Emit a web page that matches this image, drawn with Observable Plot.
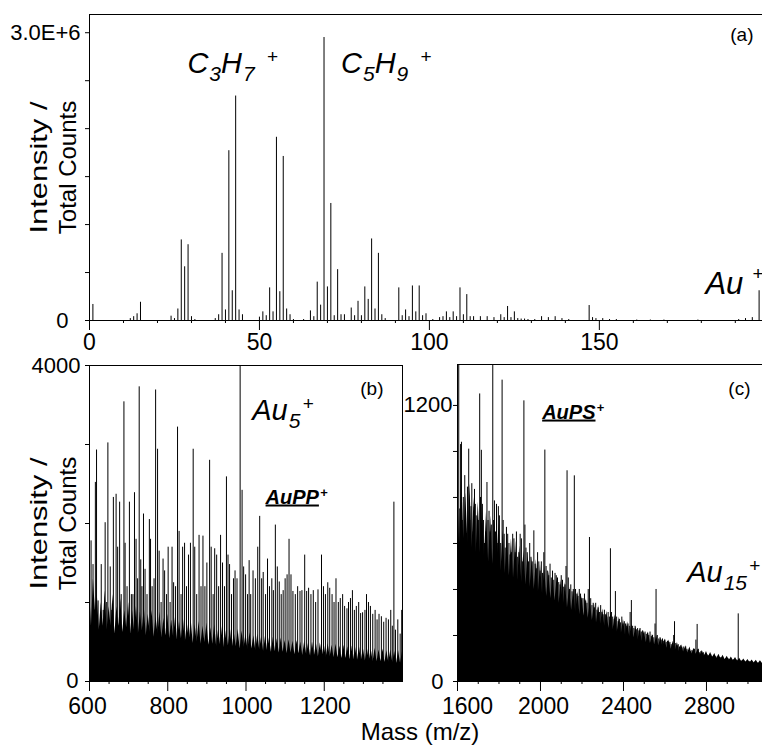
<!DOCTYPE html>
<html><head><meta charset="utf-8">
<script src="https://cdn.jsdelivr.net/npm/d3@7"></script>
<script src="https://cdn.jsdelivr.net/npm/@observablehq/plot@0.6"></script>
<style>
body{margin:0;background:#fff;}
#fig{position:relative;width:762px;height:745px;overflow:hidden;font-family:"Liberation Sans",Arial,sans-serif;color:#000;}
#fig svg{position:absolute;}
#xlab{position:absolute;left:270px;width:300px;top:723px;text-align:center;font-size:24px;line-height:18px;}
</style></head><body><div id="fig"><div id="xlab">Mass (m/z)</div></div>
<script>
// ---------- data ----------
// Panel (a): low-mass region, [m/z, intensity]
const peaksA = [[1,1.67e5],[12,2e4],[13,4e4],[14,7e4],[15,1.9e5],[24,4.5e4],[25,2e4],[26,1.2e5],[27,8.4e5],[28,5.6e5],[29,7.9e5],[30,4e4],[31,1e4],
 [37,2e4],[38,6e4],[39,7.0e5],[40,1.1e5],[41,1.77e6],[42,3.1e5],[43,2.34e6],[44,1.1e5],[45,6e4],[50,3.5e4],[51,9e4],[52,5e4],[53,3.4e5],[54,9e4],
 [55,1.91e6],[56,3.0e5],[57,1.71e6],[58,1.2e5],[59,6e4],[60,1e4],[63,1e4],[65,1.0e5],[66,4e4],[67,4.0e5],[68,1.6e5],[69,2.95e6],[70,3.5e5],[71,1.22e6],
 [72,5e4],[73,5.3e5],[74,6e4],[75,6e4],[77,1.3e5],[78,5e4],[79,2.0e5],[80,5e4],[81,3.5e5],[82,2.2e5],[83,8.5e5],[84,1.2e5],[85,7.0e5],[86,6e4],[87,2e4],
 [91,3.4e5],[92,5e4],[93,1.1e5],[94,4e4],[95,3.6e5],[96,9e4],[97,3.6e5],[98,5e4],[99,7e4],[101,1e4],[103,3e4],[104,4e4],[105,9e4],[106,3e4],[107,9e4],
 [108,4e4],[109,3.4e5],[110,6e4],[111,2.7e5],[112,4e4],[113,4e4],[115,4e4],[117,4e4],[119,3e4],[121,6e4],[122,3e4],[123,1.46e5],[124,3e4],[125,9e4],
 [126,2e4],[127,1.5e4],[128,1.5e4],[129,1e4],[131,1e4],[133,4e4],[135,3e4],[137,4e4],[139,2e4],[141,1e4],[147,1.56e5],[148,3e4],[149,2e4],[151,2e4],
 [153,1e4],[155,1e4],[161,5e3],[165,5e3],[169,5e3],[179,5e3],[191,1e4],[193,2e4],[195,3e4],[197,3.1e5],[198,2e4]];

// Panel (b): 600-1400 m/z, resolved peaks [m/z, counts]
const peaksB = [[604,1780],[609,1480],[615,2520],[618,2930],[622,1020],[630,1480],[635,900],[640,2010],[644,1000],[647,3020],[653,1450],[657,900],
 [661,2330],[668,2370],[672,1700],[677,2270],[681,1100],[688,3540],[691,1750],[696,1200],[702,2270],[707,1100],[711,1100],[715,2390],[719,1800],
 [723,1300],[727,3730],[731,1540],[734,1200],[738,2120],[742,1420],[747,1100],[753,2050],[756,1800],[760,1200],[765,1300],[769,3690],[774,2940],
 [778,1650],[783,1000],[788,1550],[792,1400],[797,1100],[801,1700],[806,1000],[811,1700],[815,1250],[820,1200],[825,3220],[829,1900],[834,1100],
 [838,1700],[843,1750],[848,1200],[853,1600],[858,1750],[865,2940],[869,1700],[874,1100],[880,1850],[885,1200],[890,1840],[895,1200],[900,1500],
 [907,2800],[911,1700],[916,1100],[920,1680],[925,1600],[930,1200],[935,1850],[940,1500],[945,1200],[950,2590],[954,1600],[958,1480],[963,1100],
 [968,1300],[972,1400],[977,1300],[985,5000],[990,2420],[994,1450],[999,1350],[1004,1100],[1008,1530],[1012,1100],[1018,1400],[1024,1300],
 [1030,1700],[1035,2090],[1040,1300],[1044,1380],[1050,1100],[1055,1550],[1060,1200],[1066,1300],[1070,1150],[1075,1980],[1080,1450],[1085,1260],
 [1090,1100],[1095,1150],[1100,1300],[1105,1350],[1110,1800],[1115,1350],[1120,1140],[1126,1100],[1132,1200],[1138,1140],[1143,1150],[1150,1600],
 [1155,1140],[1160,1180],[1166,1100],[1172,1150],[1178,1000],[1184,1160],[1193,1600],[1198,1200],[1203,1100],[1209,1250],[1214,1180],[1220,1100],
 [1225,1000],[1230,1300],[1236,1000],[1241,1050],[1247,1100],[1252,950],[1258,920],[1262,1000],[1267,1050],[1272,1150],[1277,900],[1282,950],
 [1288,1000],[1293,860],[1298,870],[1304,900],[1308,1100],[1313,1000],[1318,950],[1324,850],[1330,900],[1335,780],[1340,850],[1346,820],
 [1352,750],[1358,800],[1364,780],[1370,900],[1374,700],[1378,2270],[1382,650],[1388,780],[1394,600],[1398,900]];

// Panel (b): dense unresolved signal [m/z, counts]
const bgB = [[600,1200],[605,700],[610,1300],[615,900],[620,1100],[625,650],[630,1000],[635,700],[640,1150],[645,650],[650,950],[655,700],[660,1100],
 [665,600],[670,950],[675,700],[680,1050],[685,620],[690,900],[695,680],[700,1000],[705,600],[710,900],[715,650],[720,950],[725,600],[730,880],
 [735,640],[740,950],[745,580],[750,850],[755,620],[760,900],[765,560],[770,820],[775,600],[780,880],[785,550],[790,800],[795,580],[800,850],
 [805,540],[810,780],[815,560],[820,820],[825,520],[830,760],[835,540],[840,800],[845,500],[850,740],[855,520],[860,780],[865,480],[870,720],
 [875,500],[880,760],[885,470],[890,700],[895,490],[900,740],[905,460],[910,680],[915,470],[920,720],[925,440],[930,660],[935,460],[940,700],
 [945,430],[950,640],[955,450],[960,680],[965,420],[970,620],[975,440],[980,660],[985,410],[990,640],[995,430],[1000,600],[1005,400],[1010,620],
 [1015,410],[1020,580],[1025,390],[1030,600],[1035,400],[1040,570],[1045,380],[1050,580],[1055,390],[1060,550],[1065,370],[1070,560],[1075,380],
 [1080,540],[1085,360],[1090,550],[1095,370],[1100,520],[1105,350],[1110,530],[1115,360],[1120,510],[1125,340],[1130,520],[1135,350],[1140,500],
 [1145,330],[1150,510],[1155,340],[1160,490],[1165,320],[1170,500],[1175,330],[1180,480],[1185,310],[1190,490],[1195,320],[1200,470],[1205,300],
 [1210,480],[1215,310],[1220,460],[1225,300],[1230,470],[1235,300],[1240,450],[1245,290],[1250,460],[1255,290],[1260,440],[1265,280],[1270,450],
 [1275,280],[1280,430],[1285,270],[1290,440],[1295,270],[1300,420],[1305,260],[1310,430],[1315,260],[1320,410],[1325,250],[1330,420],[1335,250],
 [1340,400],[1345,250],[1350,410],[1355,240],[1360,390],[1365,240],[1370,400],[1375,240],[1380,380],[1385,230],[1390,390],[1395,230],[1400,380]];

// Panel (c): 1600-3070 m/z, resolved peaks [m/z, counts]
const peaksC = [[1606,2000],[1611,750],[1615,1030],[1619,1040],[1623,700],[1628,800],[1635,895],[1641,600],[1648,845],[1654,1010],[1660,700],
 [1665,760],[1669,860],[1675,650],[1682,835],[1686,770],[1690,720],[1696,600],[1702,700],[1707,1250],[1711,800],[1715,1005],[1720,770],[1725,700],
 [1730,600],[1736,650],[1742,865],[1747,700],[1752,740],[1757,650],[1763,680],[1770,2000],[1774,700],[1778,785],[1783,650],[1788,770],[1792,600],
 [1797,760],[1802,720],[1808,600],[1815,1310],[1820,700],[1825,640],[1830,580],[1836,670],[1842,640],[1848,600],[1853,550],[1860,560],[1866,640],
 [1872,620],[1878,560],[1884,650],[1890,540],[1896,560],[1902,640],[1908,620],[1914,520],[1920,1220],[1925,680],[1930,580],[1936,560],[1942,520],
 [1948,600],[1954,540],[1960,520],[1968,655],[1974,510],[1980,490],[1986,560],[1992,520],[1998,480],[2004,520],[2010,470],[2016,560],[2021,1006],
 [2027,500],[2033,480],[2040,460],[2046,510],[2052,450],[2058,480],[2064,440],[2070,470],[2076,460],[2082,450],[2088,430],[2094,420],[2100,460],
 [2106,440],[2112,410],[2118,420],[2123,500],[2128,916],[2134,450],[2140,400],[2146,420],[2152,390],[2158,400],[2163,894],[2169,400],[2175,380],
 [2181,370],[2187,400],[2193,380],[2199,360],[2205,360],[2212,380],[2218,350],[2224,340],[2230,400],[2236,626],[2242,360],[2248,330],[2254,340],
 [2260,320],[2266,340],[2272,310],[2278,320],[2284,300],[2290,330],[2296,300],[2302,290],[2308,310],[2314,290],[2320,280],[2326,300],[2332,280],
 [2337,577],[2342,300],[2348,280],[2355,270],[2361,391],[2367,280],[2374,260],[2380,270],[2386,255],[2392,280],[2398,250],[2404,260],[2410,250],
 [2416,240],[2422,250],[2428,240],[2432,300],[2438,352],[2444,240],[2450,230],[2456,240],[2462,225],[2468,230],[2474,220],[2480,230],[2486,215],
 [2492,220],[2498,210],[2504,215],[2510,205],[2516,210],[2522,200],[2528,215],[2534,195],[2540,200],[2546,190],[2552,250],[2557,400],[2563,200],
 [2570,185],[2576,190],[2582,180],[2588,185],[2594,175],[2600,180],[2606,170],[2612,175],[2618,165],[2624,170],[2630,160],[2636,165],[2642,200],
 [2646,260],[2652,165],[2658,155],[2664,160],[2670,150],[2676,155],[2682,145],[2688,150],[2694,140],[2700,150],[2706,140],[2712,135],[2718,140],
 [2724,130],[2730,135],[2736,130],[2742,140],[2749,180],[2755,248],[2761,140],[2767,125],[2773,130],[2779,120],[2785,125],[2791,115],[2797,120],
 [2803,115],[2809,112],[2815,110],[2821,115],[2827,108],[2833,110],[2839,105],[2845,108],[2851,102],[2857,105],[2863,100],[2869,104],[2875,98],
 [2881,100],[2887,96],[2893,100],[2899,95],[2905,98],[2911,94],[2917,96],[2923,92],[2929,95],[2935,90],[2941,94],[2947,92],[2953,294],[2959,92],
 [2965,88],[2971,90],[2977,86],[2983,88],[2989,85],[2995,88],[3001,84],[3007,86],[3013,82],[3019,85],[3025,80],[3031,84],[3037,80],[3043,82],
 [3049,78],[3055,80],[3061,76],[3067,78]];

// Panel (c): dense unresolved signal [m/z, counts]
const bgC = [[1600,850],[1610,600],[1620,900],[1630,620],[1640,820],[1650,600],[1660,860],[1670,580],[1680,800],[1690,560],[1700,780],[1710,560],
 [1720,760],[1730,540],[1740,740],[1750,520],[1760,720],[1770,510],[1780,700],[1790,500],[1800,690],[1810,480],[1820,660],[1830,470],[1840,640],
 [1850,460],[1860,620],[1870,450],[1880,610],[1890,440],[1900,590],[1910,430],[1920,570],[1930,420],[1940,560],[1950,410],[1960,540],[1970,400],
 [1980,530],[1990,390],[2000,510],[2010,380],[2020,500],[2030,370],[2040,480],[2050,360],[2060,470],[2070,350],[2080,450],[2090,340],[2100,440],
 [2110,330],[2120,430],[2130,320],[2140,410],[2150,310],[2160,400],[2170,300],[2180,390],[2190,290],[2200,370],[2210,285],[2220,360],[2230,275],
 [2240,350],[2250,265],[2260,340],[2270,255],[2280,330],[2290,250],[2300,315],[2310,240],[2320,305],[2330,230],[2340,300],[2350,225],[2360,290],
 [2370,215],[2380,280],[2390,210],[2400,270],[2410,200],[2420,260],[2430,195],[2440,250],[2450,190],[2460,240],[2470,180],[2480,230],[2490,175],
 [2500,220],[2510,170],[2520,215],[2530,165],[2540,205],[2550,160],[2560,200],[2570,155],[2580,190],[2590,150],[2600,185],[2610,145],[2620,180],
 [2630,140],[2640,175],[2650,135],[2660,170],[2670,130],[2680,160],[2690,128],[2700,155],[2710,124],[2720,150],[2730,120],[2740,145],[2750,118],
 [2760,140],[2770,114],[2780,135],[2790,110],[2800,130],[2810,108],[2820,126],[2830,104],[2840,122],[2850,100],[2860,118],[2870,98],[2880,114],
 [2890,95],[2900,110],[2910,92],[2920,107],[2930,90],[2940,104],[2950,88],[2960,101],[2970,86],[2980,98],[2990,84],[3000,96],[3010,82],[3020,94],
 [3030,80],[3040,92],[3050,78],[3060,90],[3070,78]];

// axis ticks and labels
const xTicksA = [0, 50, 100, 150], xTickLabelsA = ["0", "50", "100", "150"];
const xMinorA = [10,20,30,40,60,70,80,90,110,120,130,140,160,170,180,190];
const yTicksA = [0, 5e5, 1e6, 1.5e6, 2e6, 2.5e6, 3e6], yTickLabelsA = ["0", "", "", "", "", "", "3.0E+6"];
const xTicksB = [600, 800, 1000, 1200], xTickLabelsB = ["600", "800", "1000", "1200"];
const xMinorB = [650,700,750,850,900,950,1050,1100,1150,1250,1300,1350];
const yTicksB = [0, 1000, 2000, 3000, 4000], yTickLabelsB = ["0", "", "", "", "4000"];
const xTicksC = [1600, 2000, 2400, 2800], xTickLabelsC = ["1600", "2000", "2400", "2800"];
const xMinorC = [1700,1800,1900,2100,2200,2300,2500,2600,2700,2900,3000];
const yTicksC = [0, 200, 400, 600, 800, 1000, 1200], yTickLabelsC = ["0", "", "", "", "", "", "1200"];

// annotations
const labelsA = [{x: 28.8, y: 2.58e6, t: "C3H7+"}, {x: 74, y: 2.58e6, t: "C5H9+"}, {x: 181.2, y: 2.8e5, t: "Au+"}];
const labelsB = [{x: 1016, y: 3316, t: "Au5+"}];
const boldB = [{x: 1050, y: 2253, t: "AuPP+"}];
const labelsC = [{x: 2707, y: 432, t: "Au15+"}];
const boldC = [{x: 2008, y: 1143, t: "AuPS+"}];
const chemParts = new Map([
  ["C3H7+", [["C","n"],["3","b"],["H","n"],["7","b"],["+","p"]]],
  ["C5H9+", [["C","n"],["5","b"],["H","n"],["9","b"],["+","p"]]],
  ["Au+",   [["Au","n"],["+","p"]]],
  ["Au5+",  [["Au","n"],["5","b"],["+","p"]]],
  ["Au15+", [["Au","n"],["15","b"],["+","p"]]],
  ["AuPP+", [["AuPP","u"],["+","s"]]],
  ["AuPS+", [["AuPS","u"],["+","s"]]]
]);
const supGap = new Map([["C3H7+", 12], ["C5H9+", 12], ["Au+", 9], ["Au5+", 2], ["Au15+", 2]]);
const yTitle = "Intensity /\nTotal Counts";

// ---------- helpers ----------
const F = "'Liberation Sans', Arial, Helvetica, sans-serif";
const toRows = arr => arr.map(([m, v]) => ({m, v}));
const fmt = (ticks, labels) => { const mp = new Map(ticks.map((t, i) => [t, labels[i]])); return d => mp.get(d) ?? ""; };
const baseStyle = {background: "transparent", overflow: "visible", fontFamily: F, color: "#000"};
const fig = document.getElementById("fig");
function place(svg, left, top) { svg.style.position = "absolute"; svg.style.left = left + "px"; svg.style.top = top + "px"; fig.appendChild(svg); }

// tick marks and tick labels are drawn as separate axis marks so labels can be nudged alone
function axes(xT, xL, xMin, yT, yL, {xPad = 13, xdx = 0, firstDx = 0, zeroPad = 9, zeroDy = 0, topPad = 5} = {}) {
  const fx = fmt(xT, xL);
  const yTop = yT.filter((d, i) => i > 0 && yL[i] !== ""), yTopL = yL.filter((d, i) => i > 0 && d !== "");
  return [
    Plot.axisX(xMin, {anchor: "bottom", tickSize: 3, tickFormat: () => "", label: null}),
    Plot.axisX(xT, {anchor: "bottom", tickSize: 10, tickFormat: () => "", label: null}),
    Plot.axisX(xT.slice(1), {anchor: "bottom", tickSize: 0, tickPadding: xPad, fontSize: 23, dx: xdx, tickFormat: fx, label: null}),
    Plot.axisX([xT[0]], {anchor: "bottom", tickSize: 0, tickPadding: xPad, fontSize: 23, dx: firstDx, tickFormat: fx, label: null}),
    Plot.axisY(yT, {anchor: "left", tickSize: 4, tickFormat: () => "", label: null}),
    Plot.axisY(yTop, {anchor: "left", tickSize: 0, tickPadding: topPad + 4, fontSize: 22, tickFormat: fmt(yTop, yTopL), label: null}),
    Plot.axisY([yT[0]], {anchor: "left", tickSize: 0, tickPadding: zeroPad + 4, fontSize: 22, dy: zeroDy, tickFormat: () => yL[0], label: null})
  ];
}
const chemText = (data, size) => Plot.text(data, {x: "x", y: "y", text: "t", textAnchor: "start", lineAnchor: "bottom", fontSize: size, fontStyle: "italic"});
const boldText = (data) => Plot.text(data, {x: "x", y: "y", text: "t", textAnchor: "start", lineAnchor: "bottom", fontSize: 20, fontStyle: "italic", fontWeight: "bold"});
const yTitleMark = Plot.text([yTitle], {text: d => d, frameAnchor: "left", dx: -37, rotate: -90, textAnchor: "middle", lineAnchor: "middle", lineHeight: 1.2, fontSize: 24});

// ---------- panel (a) ----------
const yTopA = 3.19e6;
const svgA = Plot.plot({
  width: 762, height: 360, marginLeft: 89, marginRight: 0, marginTop: 14, marginBottom: 40,
  style: baseStyle,
  x: {domain: [0, 198], label: null},
  y: {domain: [0, yTopA], label: null},
  marks: [
    Plot.ruleX(toRows(peaksA), {x: "m", y: "v", stroke: "#000", strokeWidth: 1, clip: true}),
    Plot.ruleY([0, yTopA], {stroke: "#000"}),
    Plot.ruleX([0], {stroke: "#000"}),
    ...axes(xTicksA, xTickLabelsA, xMinorA, yTicksA, yTickLabelsA, {xPad: 13, zeroPad: 17, topPad: 5}),
    chemText(labelsA, 29),
    Plot.text(["(a)"], {text: d => d, frameAnchor: "top-right", dx: -9, dy: 26, textAnchor: "end", lineAnchor: "bottom", fontSize: 19}),
    yTitleMark
  ]
});
place(svgA, 0, 0);

// ---------- panel (b) ----------
const svgB = Plot.plot({
  width: 420, height: 405, marginLeft: 89, marginRight: 18, marginTop: 25, marginBottom: 64,
  style: baseStyle,
  x: {domain: [600, 1400], label: null},
  y: {domain: [0, 4000], label: null},
  marks: [
    Plot.areaY(toRows(bgB), {x: "m", y: "v", fill: "#000", clip: true}),
    Plot.ruleX(toRows(peaksB), {x: "m", y: "v", stroke: "#000", strokeWidth: 1, clip: true}),
    Plot.frame({stroke: "#000"}),
    ...axes(xTicksB, xTickLabelsB, xMinorB, yTicksB, yTickLabelsB, {xPad: 16, xdx: 1, firstDx: -2, zeroPad: 7, zeroDy: -1, topPad: 5}),
    chemText(labelsB, 29),
    boldText(boldB),
    Plot.text(["(b)"], {text: d => d, frameAnchor: "top-right", dx: -19, dy: 29, textAnchor: "end", lineAnchor: "bottom", fontSize: 19}),
    yTitleMark
  ]
});
place(svgB, 0, 340);

// ---------- panel (c) ----------
const yTopC = 1378;
const svgC = Plot.plot({
  width: 382, height: 405, marginLeft: 77, marginRight: 0, marginTop: 24, marginBottom: 64,
  style: baseStyle,
  x: {domain: [1600, 3070], label: null},
  y: {domain: [0, yTopC], label: null},
  marks: [
    Plot.areaY(toRows(bgC), {x: "m", y: "v", fill: "#000", clip: true}),
    Plot.ruleX(toRows(peaksC), {x: "m", y: "v", stroke: "#000", strokeWidth: 1, clip: true}),
    Plot.ruleY([0, yTopC], {stroke: "#000"}),
    Plot.ruleX([1600], {stroke: "#000"}),
    ...axes(xTicksC, xTickLabelsC, xMinorC, yTicksC, yTickLabelsC, {xPad: 16, xdx: 3, firstDx: 10, zeroPad: 10, zeroDy: 0, topPad: 1}),
    chemText(labelsC, 29),
    boldText(boldC),
    Plot.text(["(c)"], {text: d => d, frameAnchor: "top-right", dx: -12, dy: 30, textAnchor: "end", lineAnchor: "bottom", fontSize: 19})
  ]
});
place(svgC, 380, 340);

// ---------- rich text: subscripts / superscripts ----------
const NS = "http://www.w3.org/2000/svg";
for (const svg of [svgA, svgB, svgC]) {
  svg.querySelectorAll("text").forEach(t => {
    // the original stretches the first title line to the length of the second
    t.querySelectorAll("tspan").forEach(ts => {
      if (ts.textContent === "Intensity /") { ts.setAttribute("textLength", 132); ts.setAttribute("lengthAdjust", "spacingAndGlyphs"); }
    });
    const key = t.textContent;
    const parts = chemParts.get(key);
    if (!parts) return;
    const isAu1 = key === "Au+";
    t.textContent = "";
    let shift = 0;
    for (const [s, k] of parts) {
      const ts = document.createElementNS(NS, "tspan");
      let target = 0, size = 29, dx = 0;
      if (k === "b") { target = 8; size = 21; dx = 1; }
      else if (k === "p") { target = isAu1 ? -14 : -10; size = 19; dx = supGap.get(key) ?? 4; }
      else if (k === "u") { size = 20; ts.setAttribute("text-decoration", "underline"); ts.style.textDecoration = "underline"; }
      else if (k === "s") { target = -7; size = 13; dx = 1; }
      if (k === "n" && isAu1) size = 31;
      ts.setAttribute("dy", target - shift);
      if (dx) ts.setAttribute("dx", dx);
      ts.setAttribute("font-size", size);
      shift = target;
      ts.textContent = s;
      t.appendChild(ts);
    }
  });
}
</script></body></html>
